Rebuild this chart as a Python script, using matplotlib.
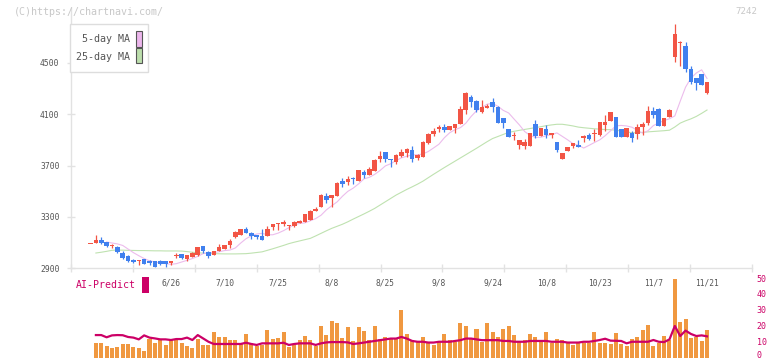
import numpy as np
import matplotlib.pyplot as plt
from matplotlib.patches import Rectangle
from matplotlib.transforms import blended_transform_factory

nan = np.nan

# --- data (2025/6/5 .. 2025/11/21, 116 sessions) ---
date_labels = ["6/26", "7/10", "7/25", "8/8", "8/25", "9/8", "9/24", "10/8", "10/23", "11/7", "11/21"]
label_idx = [15, 25, 35, 45, 55, 65, 75, 85, 95, 105, 115]

opens = [3088, 3099, 3118, 3107, 3071, 3068, 3021, 2996, 2967, 2957,
         2972, 2959, 2954, 2959, 2959, 2944, 2999, 3009, 2972, 2988,
         3001, 3073, 3027, 3001, 3032, 3053, 3079, 3143, 3161, 3203,
         3177, 3159, 3149, 3151, 3224, 3243, 3242, 3227, 3229, 3250,
         3260, 3276, 3344, 3379, 3465, 3445, 3463, 3582, 3572, 3602,
         3582, 3652, 3626, 3660, 3753, 3805, 3750, 3730, 3776, 3800,
         3823, 3756, 3768, 3875, 3945, 3986, 4002, 3979, 3992, 4023,
         4132, 4236, 4205, 4116, 4150, 4195, 4153, 4072, 3986, 3928,
         3860, 3852, 3854, 4023, 3930, 3986, 3940, 3883, 3753, 3815,
         3852, 3860, 3918, 3940, 3943, 3940, 4015, 4049, 4077, 3982,
         3924, 3950, 3945, 3997, 4031, 4122, 4142, 4010, 4080, 4547,
         4655, 4630, 4450, 4378, 4411, 4267]
highs = [3090, 3157, 3141, 3107, 3089, 3073, 3035, 3006, 2975, 2967,
         2975, 2964, 2957, 2964, 2959, 2959, 3021, 3015, 3003, 3025,
         3068, 3073, 3035, 3035, 3089, 3084, 3126, 3193, 3206, 3224,
         3182, 3159, 3206, 3229, 3245, 3249, 3276, 3237, 3268, 3276,
         3325, 3350, 3377, 3475, 3486, 3473, 3572, 3600, 3618, 3613,
         3665, 3665, 3686, 3751, 3813, 3805, 3753, 3792, 3826, 3834,
         3852, 3790, 3890, 3955, 3989, 4015, 4025, 4010, 4023, 4160,
         4275, 4249, 4210, 4212, 4181, 4226, 4163, 4072, 3986, 3963,
         3898, 3904, 3955, 4056, 3992, 4015, 3955, 3883, 3794, 3841,
         3878, 3898, 3940, 3953, 3984, 4038, 4095, 4116, 4077, 3982,
         3995, 3966, 4023, 4038, 4160, 4155, 4147, 4070, 4140, 4803,
         4672, 4661, 4474, 4380, 4415, 4350]
lows = [3086, 3099, 3089, 3068, 3058, 3021, 2970, 2951, 2944, 2923,
        2933, 2928, 2908, 2923, 2912, 2923, 2978, 2975, 2959, 2985,
        2998, 3017, 2983, 3001, 3032, 3053, 3060, 3136, 3161, 3177,
        3130, 3130, 3123, 3151, 3200, 3200, 3229, 3200, 3221, 3250,
        3260, 3276, 3344, 3379, 3410, 3379, 3463, 3533, 3546, 3556,
        3582, 3605, 3626, 3660, 3730, 3730, 3691, 3714, 3768, 3768,
        3727, 3743, 3768, 3867, 3930, 3963, 3963, 3975, 3955, 4023,
        4103, 4158, 4119, 4106, 4150, 4119, 4030, 3994, 3920, 3896,
        3826, 3828, 3854, 3912, 3930, 3916, 3912, 3803, 3748, 3815,
        3834, 3844, 3883, 3898, 3893, 3927, 3966, 4049, 3924, 3924,
        3924, 3883, 3909, 3940, 4017, 4070, 4010, 4010, 4080, 4503,
        4477, 4428, 4334, 4290, 4325, 4259]
closes = [3090, 3118, 3095, 3071, 3075, 3029, 2978, 2959, 2949, 2967,
          2936, 2939, 2912, 2933, 2936, 2959, 3003, 2978, 3003, 3021,
          3063, 3035, 2993, 3035, 3063, 3084, 3115, 3182, 3206, 3177,
          3154, 3143, 3123, 3206, 3245, 3247, 3258, 3237, 3260, 3268,
          3325, 3346, 3364, 3470, 3431, 3473, 3566, 3556, 3593, 3598,
          3665, 3626, 3675, 3743, 3774, 3753, 3746, 3784, 3805, 3826,
          3753, 3780, 3883, 3945, 3968, 4002, 3976, 4005, 4023, 4140,
          4267, 4195, 4132, 4155, 4166, 4158, 4033, 4031, 3924, 3932,
          3898, 3885, 3955, 3930, 3992, 3937, 3955, 3823, 3794, 3841,
          3878, 3846, 3924, 3906, 3947, 4038, 4036, 4116, 3924, 3924,
          3992, 3916, 4002, 4023, 4122, 4095, 4010, 4070, 4132, 4723,
          4665, 4453, 4352, 4339, 4328, 4347]

ma5 = [nan, nan, nan, 3105, 3097, 3090, 3078, 3050, 3022, 2998,
       2976, 2958, 2950, 2941, 2937, 2931, 2936, 2949, 2962, 2976,
       2993, 3014, 3020, 3023, 3029, 3038, 3042, 3058, 3096, 3130,
       3153, 3167, 3172, 3161, 3161, 3174, 3193, 3216, 3239, 3249,
       3254, 3270, 3287, 3313, 3355, 3387, 3417, 3461, 3499, 3524,
       3557, 3596, 3608, 3631, 3661, 3697, 3714, 3738, 3760, 3772,
       3783, 3783, 3790, 3809, 3837, 3866, 3916, 3955, 3979, 3995,
       4029, 4082, 4126, 4151, 4178, 4183, 4161, 4129, 4109, 4062,
       4016, 3964, 3934, 3919, 3920, 3932, 3940, 3954, 3927, 3900,
       3870, 3858, 3836, 3857, 3879, 3900, 3932, 3970, 4009, 4012,
       4008, 3998, 3974, 3952, 3971, 4011, 4032, 4050, 4064, 4086,
       4200, 4310, 4380, 4420, 4445, 4378]
ma25 = [nan, 3019, 3025, 3032, 3040, 3042, 3041, 3040, 3039, 3038,
        3038, 3037, 3036, 3036, 3035, 3035, 3035, 3034, 3030, 3025,
        3021, 3018, 3015, 3014, 3013, 3012, 3012, 3012, 3013, 3014,
        3018, 3023, 3028, 3040, 3052, 3065, 3078, 3092, 3103, 3113,
        3123, 3133, 3152, 3172, 3192, 3211, 3227, 3243, 3262, 3283,
        3303, 3323, 3344, 3366, 3392, 3418, 3444, 3470, 3492, 3514,
        3534, 3555, 3578, 3605, 3632, 3658, 3684, 3709, 3734, 3759,
        3784, 3809, 3834, 3860, 3886, 3910, 3926, 3942, 3958, 3966,
        3974, 3981, 3988, 3995, 4002, 4010, 4016, 4021, 4021, 4015,
        4008, 3999, 3994, 3990, 3986, 3983, 3980, 3979, 3975, 3968,
        3962, 3955, 3955, 3958, 3962, 3965, 3968, 3971, 3975, 4000,
        4030, 4048, 4063, 4082, 4106, 4132]

volume = [nan, 9.4, 9.4, 7.3, 6.3, 6.7, 8.4, 8.6, 6.7, 5.9,
          4.4, 11.7, 9.4, 11.7, 8.0, 10.9, 11.7, 9.4, 7.5, 6.1,
          11.7, 8.0, 8.0, 16.3, 13.0, 13.0, 11.1, 10.9, 9.0, 14.9,
          9.0, 7.3, 8.0, 17.4, 11.7, 12.5, 16.3, 7.0, 8.0, 11.1,
          13.6, 11.1, 7.3, 19.9, 14.2, 23.0, 21.6, 12.3, 19.5, 10.7,
          19.5, 17.0, 11.0, 20.0, 12.0, 13.0, 12.0, 12.0, 30.0, 15.0,
          11.0, 10.0, 13.0, 9.0, 8.0, 10.0, 15.0, 11.0, 10.0, 22.0,
          20.0, 12.0, 18.0, 10.0, 22.0, 16.0, 13.0, 18.0, 20.0, 14.0,
          10.0, 11.0, 15.0, 13.0, 11.0, 16.0, 9.0, 12.0, 11.0, 10.0,
          8.0, 10.0, 9.0, 9.0, 16.0, 9.0, 9.0, 8.6, 15.7, 8.6,
          7.3, 11.7, 13.0, 17.6, 20.5, 7.3, 9.4, 13.6, 10.9, 49.4,
          22.4, 24.3, 12.6, 13.0, 10.7, 17.6]
ai_predict = [nan, 14.2, 14.2, 12.8, 14.0, 14.2, 14.1, 13.0, 12.6, 11.5,
              14.0, 12.6, 12.1, 11.5, 11.5, 11.1, 11.7, 11.7, 12.6, 11.1,
              14.2, 12.1, 10.0, 8.6, 8.6, 8.6, 8.6, 8.6, 8.6, 9.4,
              8.6, 8.0, 9.0, 9.0, 9.0, 9.0, 9.4, 8.0, 8.6, 9.0,
              9.0, 9.0, 8.0, 9.0, 9.6, 9.8, 9.8, 9.8, 9.6, 8.6,
              9.0, 9.5, 10.0, 10.5, 11.0, 11.5, 12.0, 12.0, 13.0, 12.0,
              10.5, 10.0, 10.0, 9.5, 9.5, 10.0, 10.0, 10.0, 10.5, 11.0,
              12.0, 12.0, 11.5, 11.0, 11.0, 11.0, 11.0, 10.5, 10.5, 10.0,
              10.0, 10.0, 10.5, 10.5, 10.5, 10.5, 10.0, 10.0, 10.0, 9.5,
              9.5, 9.5, 10.0, 10.0, 10.5, 11.1, 11.9, 10.7, 10.6, 10.5,
              9.0, 10.0, 10.0, 10.0, 10.0, 11.1, 10.0, 9.8, 11.5, 19.9,
              13.6, 17.0, 14.9, 13.6, 14.0, 13.4]

# --- layout helpers (pixel -> figure fraction) ---
W, H = 772, 361
def fx(px):
    return px / W
def fy(py):
    return 1 - py / H

plt.rcParams['font.family'] = ['DejaVu Sans Mono']
UP, DOWN = '#f25545', '#4080ee'
GRID = '#e2e2e2'
TXT = '#555555'
MAG = '#cc0066'

fig = plt.figure(figsize=(W / 100, H / 100), dpi=100)
L, R = 70.7, 752.3
XL = (-3.7, 123.45)

# --- price panel ---
ax = fig.add_axes([fx(L), fy(268.3), (R - L) / W, (268.3 - 8) / H])
ax.set_xlim(*XL)
ax.set_ylim(2900, 4926)

x = np.arange(len(closes))
o = np.array(opens); c = np.array(closes)
colors = [UP if cc >= oo else DOWN for oo, cc in zip(o, c)]
body_lo = np.minimum(o, c)
body_h = np.maximum(np.abs(c - o), 8)
ax.vlines(x, lows, highs, colors=colors, lw=0.9, zorder=2)
ax.bar(x, body_h, bottom=body_lo, width=0.85, color=colors, linewidth=0, zorder=3)

ax.plot(x, ma25, color='#bfe2b0', lw=0.8, zorder=1)
ax.plot(x, ma5, color='#ecbcec', lw=0.8, zorder=1)

for s in ['top', 'right']:
    ax.spines[s].set_visible(False)
for s in ['left', 'bottom']:
    ax.spines[s].set_color(GRID)
    ax.spines[s].set_linewidth(1.0)
ax.set_yticks([2900, 3300, 3700, 4100, 4500])
ax.tick_params(axis='y', direction='inout', length=6, width=1, color=GRID,
               labelsize=5.8, labelcolor=TXT, pad=5)
ax.set_xticks(np.linspace(XL[0], XL[1], 12))
ax.set_xticklabels([])
ax.tick_params(axis='x', direction='inout', length=6, width=1, color=GRID)

lab_tr = blended_transform_factory(ax.transData, fig.transFigure)
for idx, lab in zip(label_idx, date_labels):
    ax.text(idx, fy(283), lab, transform=lab_tr, ha='center', va='center',
            fontsize=5.7, color=TXT)

# --- lower panel: volume + AI-Predict ---
ax2 = fig.add_axes([fx(L), fy(357.7), (R - L) / W, (357.7 - 278) / H])
ax2.set_xlim(*XL)
ax2.set_ylim(0, 50)
ax2.bar(x, volume, width=0.75, color='#f09840', linewidth=0)
ax2.plot(x, ai_predict, color=MAG, lw=1.6)
for s in ax2.spines.values():
    s.set_visible(False)
ax2.set_xticks([])
ax2.yaxis.tick_right()
ax2.set_yticks([10, 20, 30, 40, 50])
ax2.tick_params(axis='y', length=0, pad=3.2, labelsize=6, labelcolor=MAG)
ax2.patch.set_alpha(0)
fig.text(fx(756.5), fy(360.5), '0', color=MAG, fontsize=6, ha='left', va='bottom')

fig.text(fx(75.5), fy(285), 'AI-Predict', color=MAG, fontsize=7.1, va='center', ha='left')
fig.add_artist(Rectangle((fx(142), fy(292.7)), 6.7 / W, 15.7 / H,
                         transform=fig.transFigure, facecolor=MAG, edgecolor='none'))

# --- legend box ---
fig.add_artist(Rectangle((fx(70), fy(72)), 78 / W, 48 / H, transform=fig.transFigure,
                         facecolor='white', edgecolor='#dddddd', lw=1, zorder=5))
fig.text(fx(130), fy(39.5), '5-day MA', ha='right', va='center', fontsize=7.2, color=TXT, zorder=6)
fig.text(fx(130), fy(56.5), '25-day MA', ha='right', va='center', fontsize=7.2, color=TXT, zorder=6)
fig.add_artist(Rectangle((fx(136.3), fy(46.5)), 6 / W, 15.5 / H, transform=fig.transFigure,
                         facecolor='#ecb6ec', edgecolor='#555555', lw=0.8, zorder=6))
fig.add_artist(Rectangle((fx(136.3), fy(63.3)), 6 / W, 15 / H, transform=fig.transFigure,
                         facecolor='#bcdeac', edgecolor='#555555', lw=0.8, zorder=6))

# --- watermark / code ---
fig.text(fx(14), fy(12), '(C)https://chartnavi.com/', color='#c8c8c8', fontsize=7.2, va='center')
fig.text(fx(757), fy(12), '7242', color='#c8c8c8', fontsize=6.6, va='center', ha='right')

fig.savefig('out.png', dpi=100)
